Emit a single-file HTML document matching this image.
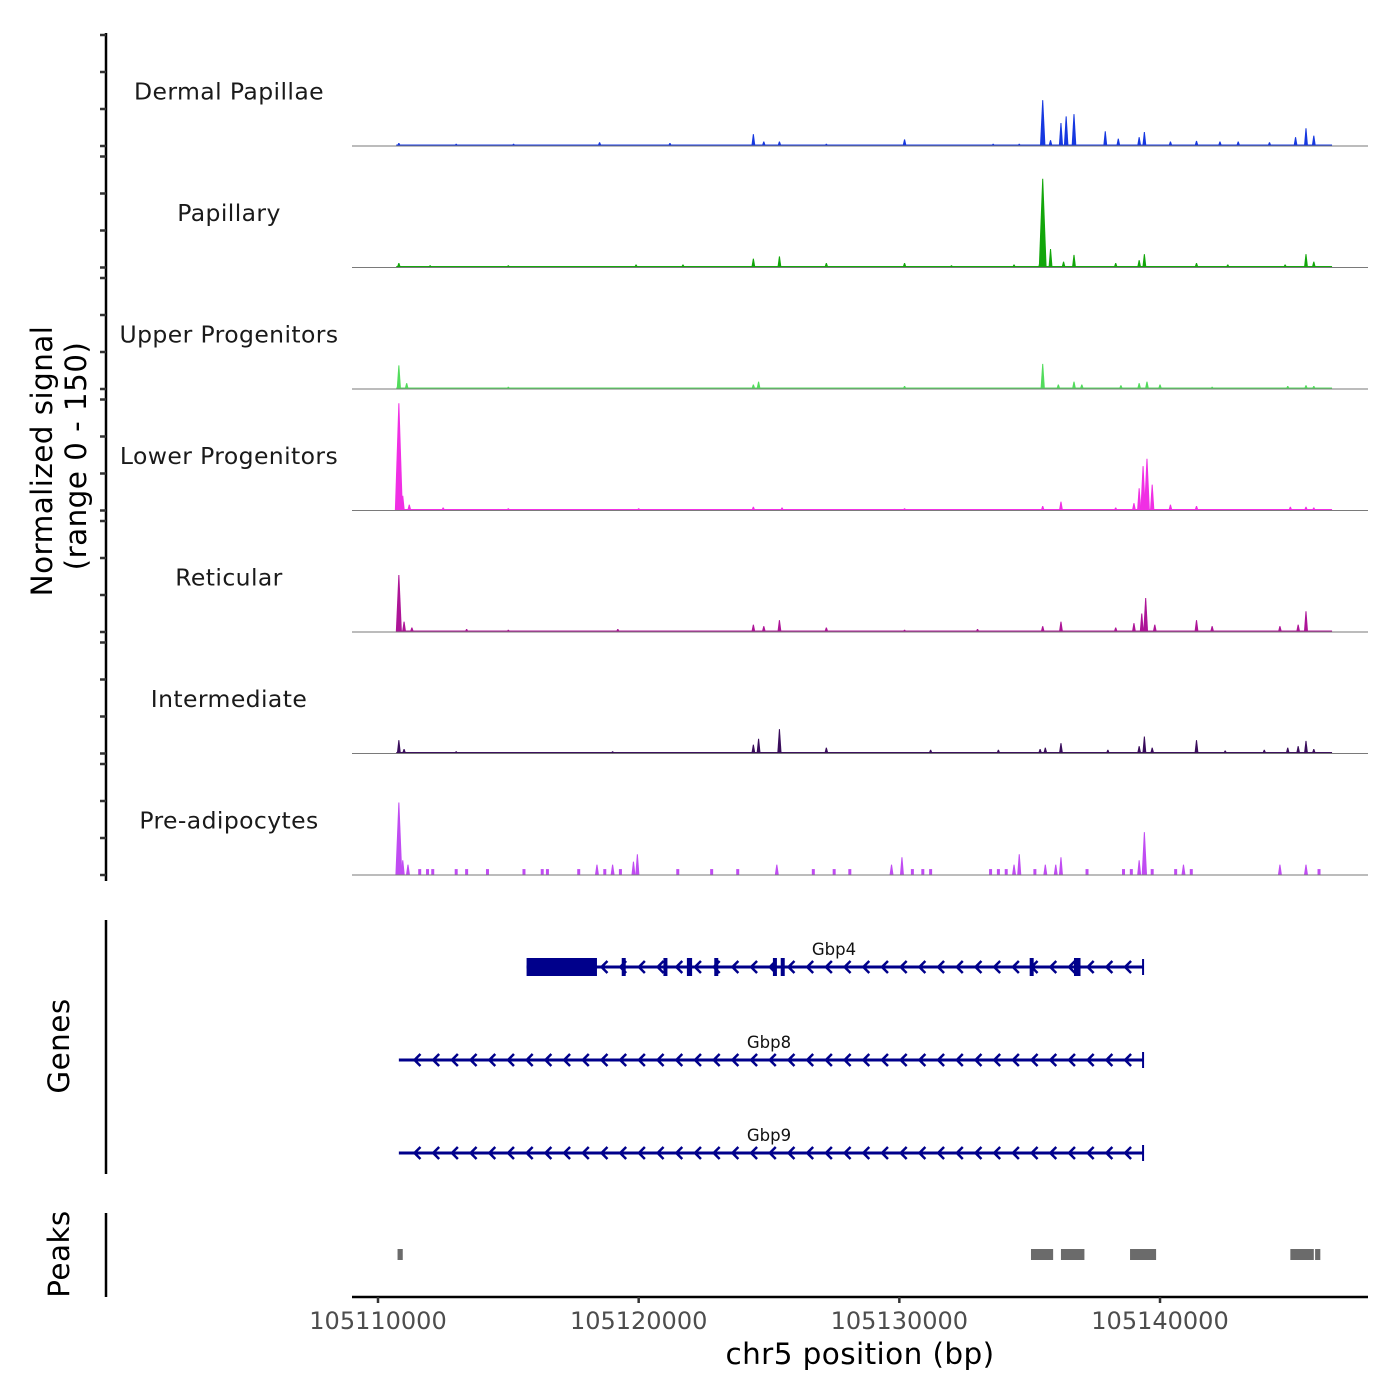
<!DOCTYPE html>
<html><head><meta charset="utf-8"><style>
html,body{margin:0;padding:0;background:#fff;}
svg{display:block;font-family:"DejaVu Sans","Liberation Sans",sans-serif;}
</style></head><body>
<svg id="chart" width="1400" height="1400" viewBox="0 0 1400 1400">
<g id="tracks"></g>
<g id="genes"></g>
<g id="peaks"></g>
<g id="axes"></g>
</svg>
<script>
// ---- data ----
const trackNames = ["Dermal Papillae","Papillary","Upper Progenitors","Lower Progenitors","Reticular","Intermediate","Pre-adipocytes"];
const trackColors = ["#1638e0","#12a60a","#52dc5c","#f02fe4","#ad1497","#3a0d5c","#c04cf2"];
const dpPos = [110.8,113.0,115.2,118.5,121.2,124.4,124.8,125.4,127.2,130.2,133.6,134.6,135.5,135.8,136.2,136.4,136.7,137.9,138.4,139.2,139.4,140.4,141.4,142.3,143.0,144.2,145.2,145.6,145.9];
const dpVal = [4,3,3,5,4,16,6,6,3,9,3,3,62,8,31,40,43,20,10,12,19,6,7,6,6,5,12,24,14];
const paPos = [110.8,112.0,115.0,119.9,121.7,124.4,125.4,127.2,130.2,132.0,134.4,135.4,135.5,135.8,136.3,136.7,138.3,139.2,139.4,141.4,142.6,144.8,145.6,145.9];
const paVal = [6,3,3,4,4,12,15,6,6,3,4,8,120,25,8,17,6,10,18,6,4,4,18,8];
const upPos = [110.8,111.1,115.0,124.4,124.6,130.2,135.5,136.1,136.7,137.0,138.5,139.2,139.5,140.0,142.0,144.9,145.6,145.9];
const upVal = [32,8,3,6,10,4,34,6,10,6,5,8,10,6,3,4,5,4];
const loPos = [110.8,110.95,111.2,112.5,115.0,120.0,124.4,125.5,130.2,135.5,136.2,138.3,139.0,139.2,139.35,139.5,139.7,140.4,141.4,145.0,145.6,145.9];
const loVal = [145,20,8,4,3,3,5,4,3,6,12,4,10,30,60,70,35,8,6,5,5,4];
const rePos = [110.8,111.0,111.3,113.4,115.0,119.2,124.4,124.8,125.4,127.2,130.2,133.0,135.5,136.2,138.3,139.0,139.3,139.45,139.8,141.4,142.0,144.6,145.3,145.6];
const reVal = [77,14,6,4,3,4,10,8,16,6,3,4,8,14,6,12,25,46,10,16,8,8,10,28];
const inPos = [110.8,111.0,113.0,119.0,124.4,124.6,125.4,127.2,131.2,133.8,135.4,135.6,136.2,138.0,139.2,139.4,139.7,141.4,142.5,144.0,144.9,145.3,145.6,145.9];
const inVal = [18,6,3,3,12,20,33,8,5,5,6,8,14,5,10,23,8,18,4,5,8,10,17,6];
const prPos = [110.8,110.95,111.15,111.6,111.9,112.1,113.0,113.4,114.2,115.6,116.3,116.5,117.7,118.4,118.7,119.0,119.3,119.8,119.95,121.5,122.8,123.8,125.3,126.7,127.5,128.1,129.7,130.1,130.5,130.9,131.2,133.5,133.8,134.1,134.4,134.6,135.2,135.6,136.0,136.2,137.2,138.6,138.9,139.2,139.4,139.7,140.6,140.9,141.2,144.6,145.6,146.1];
const prVal = [98,20,14,8,8,8,8,8,8,8,8,8,8,14,8,14,8,18,28,8,8,8,14,8,8,8,14,24,8,8,8,8,8,8,14,28,8,14,14,24,8,8,8,20,58,8,8,14,8,14,14,8];
const trackPos = [dpPos,paPos,upPos,loPos,rePos,inPos,prPos];
const trackVal = [dpVal,paVal,upVal,loVal,reVal,inVal,prVal];
const coverageStart = [110.7,110.7,110.7,110.7,110.7,110.7];
const coverageEnd = [146.6,146.6,146.6,146.6,146.6,146.6];
const geneNames = ["Gbp4","Gbp8","Gbp9"];
const geneStart = [115.7,110.8,110.8];
const geneEnd = [139.35,139.35,139.35];
const gbp4Exons = [[115.7,118.4],[119.35,119.5],[120.95,121.1],[121.85,122.05],[122.9,123.05],[125.15,125.3],[125.45,125.55],[135.0,135.1],[136.7,136.95]];
const peakStart = [110.75,135.05,136.2,138.85,145.0,145.95];
const peakEnd = [110.95,135.9,137.1,139.85,145.9,146.15];
const xTicks = [110,120,130,140];
const xTickLabels = ["105110000","105120000","105130000","105140000"];

// ---- scales ----
const NS="http://www.w3.org/2000/svg";
const X0=378, PXKB=26.067;
const xs = kb => X0 + (kb-110)*PXKB;
const baselines=[146,267.5,389,510.5,632,753.5,875];
const YPX=0.74;
const ys = (b,v) => b - v*YPX;
function mk(tag,attrs,parent){const e=document.createElementNS(NS,tag);for(const k in attrs)e.setAttribute(k,attrs[k]);parent.appendChild(e);return e;}

const tg=document.getElementById('tracks');
for(let t=0;t<7;t++){
  const g=mk('g',{},tg);
  
  
  const b=baselines[t], c=trackColors[t];
  if(t<6){
    const r=mk('rect',{x:xs(coverageStart[t]),y:ys(b,2),width:xs(coverageEnd[t])-xs(coverageStart[t]),height:2*YPX,fill:c},g);
    
    
  }
  const pos=trackPos[t], val=trackVal[t];
  for(let i=0;i<pos.length;i++){
    const x=xs(pos[i]), v=val[i];
    const small = t===6 && v<=8;
    const hw = small ? 1.5 : Math.max(2, Math.min(4, 1.5+v*0.02));
    let d;
    if(small) d=`M${x-hw},${b}L${x-hw},${ys(b,v)}L${x+hw},${ys(b,v)}L${x+hw},${b}Z`;
    else d=`M${x-hw},${b}L${x-0.5},${ys(b,v)}L${x+0.5},${ys(b,v)}L${x+hw},${b}Z`;
    const p=mk('path',{d:d,fill:c},g);
    
    
  }
  const bl=mk('line',{x1:352,x2:1368,y1:b,y2:b,stroke:'#7a7a7a','stroke-width':1},g);
  
  
  const lab=mk('text',{x:229,y:b-121.5+75,'text-anchor':'middle','font-size':23.5,fill:'#1a1a1a','letter-spacing':'0.4'},g);
  lab.textContent=trackNames[t];
  
  
}

// genes
const gg=document.getElementById('genes');
const geneY=[967,1060,1153];
for(let i=0;i<3;i++){
  const g=mk('g',{},gg);
  
  
  const y=geneY[i], x1=xs(geneStart[i]), x2=xs(geneEnd[i]);
  mk('line',{x1:x1,x2:x2,y1:y,y2:y,stroke:'#00008b','stroke-width':3},g);
  mk('line',{x1:x2,x2:x2,y1:y-8,y2:y+8,stroke:'#00008b','stroke-width':2},g);
  for(let ax=x2-18;ax>x1+2;ax-=18.7){
    mk('path',{d:`M${ax+6},${y-6}L${ax},${y}L${ax+6},${y+6}`,fill:'none',stroke:'#00008b','stroke-width':2.5},g);
  }
  if(i===0){
    for(const ex of gbp4Exons){
      const r=mk('rect',{x:xs(ex[0]),y:y-9,width:Math.max(4,xs(ex[1])-xs(ex[0])),height:18,fill:'#00008b'},g);
      
      
    }
  }
  const lx = i===0 ? 834 : 769;
  const t=mk('text',{x:lx,y:y-12,'text-anchor':'middle','font-size':16.5,fill:'#111'},g);
  t.textContent=geneNames[i];
  
  
}

// peaks
const pg=document.getElementById('peaks');
for(let i=0;i<peakStart.length;i++){
  const r=mk('rect',{x:xs(peakStart[i]),y:1249,width:Math.max(5,xs(peakEnd[i])-xs(peakStart[i])),height:11,fill:'#6b6b6b'},pg);
  
  
}

// axes
const ag=document.getElementById('axes');
mk('line',{x1:106,x2:106,y1:33,y2:881,stroke:'#000','stroke-width':2.5},ag);
for(let t=0;t<7;t++){
  for(let k=0;k<4;k++){
    const yy=baselines[t]-k*37;
    mk('line',{x1:100,x2:106,y1:yy,y2:yy,stroke:'#333','stroke-width':2.5},ag);
  }
}
mk('line',{x1:106,x2:106,y1:920,y2:1174,stroke:'#000','stroke-width':2.5},ag);
mk('line',{x1:106,x2:106,y1:1213,y2:1297,stroke:'#000','stroke-width':2.5},ag);
mk('line',{x1:352,x2:1368,y1:1297,y2:1297,stroke:'#000','stroke-width':2.5},ag);
for(let i=0;i<xTicks.length;i++){
  const x=xs(xTicks[i]);
  mk('line',{x1:x,x2:x,y1:1297,y2:1303,stroke:'#333','stroke-width':2.5},ag);
  const t=mk('text',{x:x,y:1329,'text-anchor':'middle','font-size':24,fill:'#4d4d4d'},ag);
  t.textContent=xTickLabels[i];
  
  
}
function title(txt,x,y,rot,name){
  const t=mk('text',{x:x,y:y,'text-anchor':'middle','font-size':29.5,fill:'#000','letter-spacing':'0.4',transform:rot?`rotate(-90 ${x} ${y})`:''},ag);
  t.textContent=txt;
  
  
}
title('chr5 position (bp)',860,1364,false,'x-axis-title');
title('Normalized signal',52,461,true,'y-axis-title');
title('(range 0 - 150)',86,456,true,'y-axis-subtitle');
title('Genes',69,1046,true,'genes-axis-title');
title('Peaks',69,1254,true,'peaks-axis-title');
</script>
</body></html>
